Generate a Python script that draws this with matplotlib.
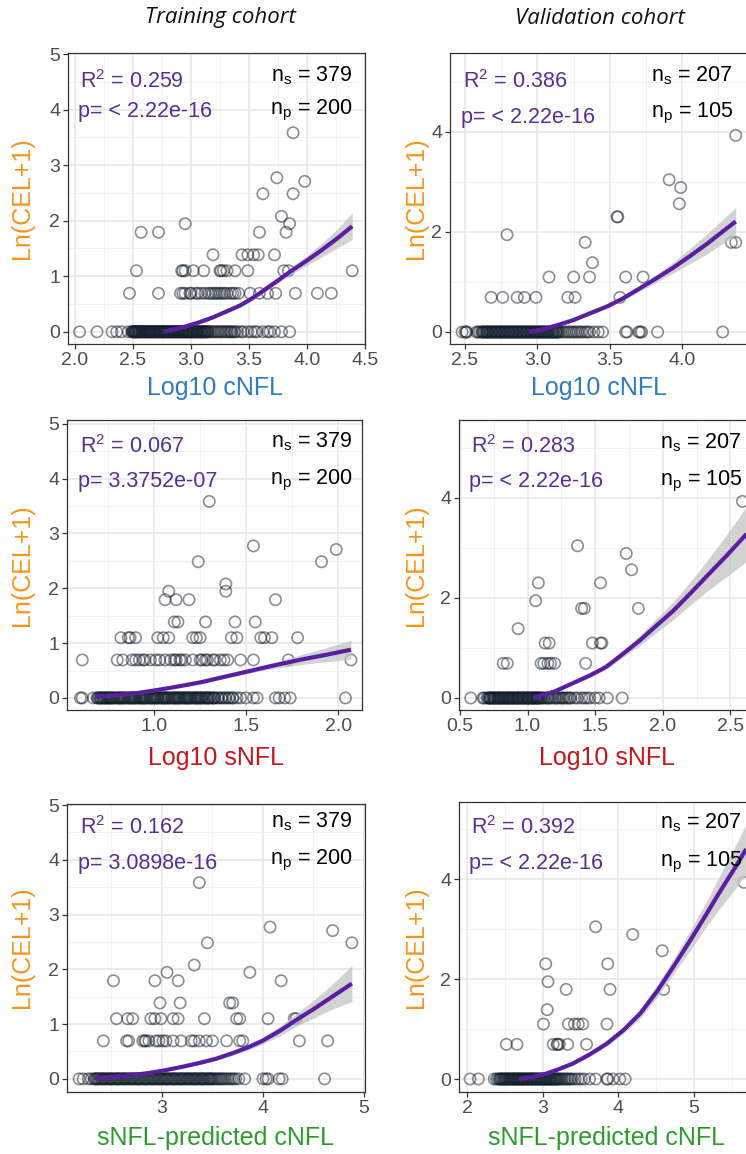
import matplotlib
matplotlib.use("Agg")
import matplotlib.pyplot as plt
from matplotlib.ticker import MultipleLocator

plt.rcParams['font.family'] = ['Liberation Sans', 'DejaVu Sans']
plt.rcParams['mathtext.fontset'] = 'custom'
plt.rcParams['mathtext.rm'] = 'Liberation Sans'
plt.rcParams['mathtext.it'] = 'Liberation Sans:italic'

W, H = 746, 1154

# ---------------- data ----------------
# y = 0 rows (x positions; *_x0d = the packed, nearly solid part of that row),
# non-zero points (x, y), fitted curve + ribbon half-width

# Training cohort, Log10 cNFL
tr_cnfl_x0 = [2.04, 2.19, 2.32, 2.36, 2.40, 2.46,
              2.49, 2.50, 2.51, 2.52, 2.52, 2.53, 2.54, 2.55, 2.56, 2.57, 2.58, 2.60,
              2.61, 2.62, 2.64, 2.65, 2.66, 2.68, 2.69, 2.70, 2.72, 2.73, 2.74, 2.76,
              2.77, 2.78, 2.80, 2.81, 2.82, 2.84, 2.85, 2.86, 2.88, 2.89, 2.90, 2.92,
              2.93, 2.94, 2.96, 2.97, 2.98, 3.00, 3.01, 3.02, 3.04, 3.05, 3.06, 3.08,
              3.09, 3.10, 3.12, 3.13, 3.15,
              3.18, 3.21, 3.24, 3.27, 3.30, 3.33, 3.35, 3.38, 3.40, 3.43, 3.45,
              3.49, 3.52, 3.55, 3.57, 3.62, 3.66, 3.68, 3.72, 3.78, 3.85]
tr_cnfl_x0d = [2.495, 2.507, 2.512, 2.524, 2.531, 2.546, 2.553, 2.561, 2.574, 2.583,
               2.592, 2.604, 2.613, 2.627, 2.633, 2.641, 2.656, 2.662, 2.674, 2.683,
               2.691, 2.706, 2.714, 2.722, 2.737, 2.745, 2.752, 2.764, 2.773, 2.787,
               2.794, 2.803, 2.816, 2.824, 2.833, 2.847, 2.853, 2.864, 2.872, 2.884,
               2.896, 2.903, 2.915, 2.924, 2.936, 2.943, 2.955, 2.967, 2.974, 2.986,
               2.993, 3.007, 3.014, 3.026, 3.033, 3.047, 3.055, 3.067, 3.074, 3.086,
               3.095, 3.107, 3.116, 3.124, 3.138, 3.146, 3.165, 3.196, 3.228, 3.256,
               3.287, 3.314, 3.345, 3.372]
tr_cnfl_x1 = [2.47, 2.72, 2.91, 2.93, 2.95, 2.99, 3.00, 3.04, 3.06, 3.09, 3.12, 3.15,
              3.17, 3.19, 3.21, 3.23, 3.25, 3.27, 3.29, 3.31, 3.34, 3.36, 3.38, 3.41,
              3.51, 3.59, 3.66, 3.73, 3.90, 4.09, 4.21,
              2.53, 2.92, 2.93, 2.95, 3.02, 3.11, 3.25, 3.26, 3.28, 3.31, 3.38, 3.49,
              3.80, 3.84, 4.39,
              3.19, 3.44, 3.49, 3.54, 3.58, 3.72,
              2.57, 2.72, 3.59, 3.82,
              2.95, 3.85, 3.78, 3.62, 3.88, 3.98, 3.74, 3.88]
tr_cnfl_y1 = [0.693] * 31 + [1.099] * 15 + [1.386] * 6 + [1.792] * 4 + \
             [1.946, 1.946, 2.079, 2.485, 2.485, 2.708, 2.773, 3.584]
tr_cnfl_fx = [2.76, 2.86, 2.96, 3.07, 3.19, 3.30, 3.42, 3.51, 3.59, 3.72, 3.86, 3.99,
              4.12, 4.26, 4.39]
tr_cnfl_fy = [0.00, 0.045, 0.10, 0.17, 0.26, 0.36, 0.47, 0.58, 0.69, 0.88, 1.09, 1.27,
              1.46, 1.68, 1.90]
tr_cnfl_band = [0.01, 0.015, 0.02, 0.02, 0.02, 0.02, 0.025, 0.03, 0.035, 0.045, 0.06,
                0.085, 0.12, 0.17, 0.24]

# Training cohort, Log10 sNFL
tr_snfl_x0 = [0.60, 0.61, 0.67,
              0.69, 0.70, 0.71, 0.72, 0.73, 0.74, 0.75, 0.76, 0.77, 0.78, 0.80, 0.81,
              0.82, 0.83, 0.84, 0.86, 0.87, 0.88, 0.89, 0.90, 0.92, 0.93, 0.94, 0.95,
              0.96, 0.98, 0.99, 1.00, 1.01, 1.02, 1.04, 1.05, 1.06, 1.07, 1.08, 1.10,
              1.11, 1.12, 1.13, 1.14, 1.16, 1.17, 1.18, 1.19, 1.20, 1.22, 1.23, 1.24,
              1.25, 1.26, 1.28, 1.29, 1.30, 1.32, 1.33,
              1.35, 1.37, 1.39, 1.41, 1.43, 1.45, 1.47,
              1.50, 1.54, 1.56, 1.66, 1.68, 1.71, 1.74, 2.04]
tr_snfl_x0d = [0.695, 0.706, 0.714, 0.726, 0.735, 0.744, 0.756, 0.765, 0.774, 0.786,
               0.795, 0.806, 0.815, 0.826, 0.835, 0.846, 0.854, 0.865, 0.876, 0.884,
               0.895, 0.905, 0.914, 0.926, 0.935, 0.945, 0.954, 0.966, 0.975, 0.984,
               0.996, 1.005, 1.016, 1.024, 1.035, 1.046, 1.055, 1.064, 1.076, 1.085,
               1.094, 1.106, 1.115, 1.126, 1.135, 1.146, 1.154, 1.165, 1.176, 1.185,
               1.194, 1.206, 1.215, 1.226, 1.234, 1.246, 1.255, 1.266, 1.274, 1.285,
               1.296, 1.305, 1.316, 1.326, 1.345, 1.365, 1.384, 1.405, 1.426]
tr_snfl_x1 = [0.61, 0.80, 0.83, 0.88, 0.90, 0.92, 0.94, 0.95, 0.98, 1.01, 1.03, 1.06,
              1.09, 1.11, 1.12, 1.14, 1.15, 1.17, 1.21, 1.25, 1.26, 1.28, 1.29, 1.32,
              1.33, 1.36, 1.38, 1.40, 1.47, 1.54, 1.73, 2.07,
              0.82, 0.86, 0.87, 0.90, 1.02, 1.05, 1.08, 1.21, 1.23, 1.25, 1.42, 1.45,
              1.58, 1.60, 1.64, 1.78,
              1.11, 1.13, 1.28, 1.44, 1.55,
              1.06, 1.12, 1.19, 1.66,
              1.08, 1.39, 1.39, 1.24, 1.91, 1.99, 1.54, 1.30]
tr_snfl_y1 = [0.693] * 32 + [1.099] * 16 + [1.386] * 5 + [1.792] * 4 + \
             [1.946, 1.946, 2.079, 2.485, 2.485, 2.708, 2.773, 3.584]
tr_snfl_fx = [0.68, 0.79, 0.90, 0.99, 1.08, 1.17, 1.26, 1.35, 1.44, 1.53, 1.62, 1.71,
              1.80, 1.94, 2.07]
tr_snfl_fy = [0.02, 0.05, 0.085, 0.13, 0.18, 0.233, 0.29, 0.36, 0.43, 0.50, 0.57, 0.635,
              0.70, 0.79, 0.88]
tr_snfl_band = [0.02, 0.02, 0.02, 0.02, 0.02, 0.02, 0.025, 0.025, 0.03, 0.04, 0.05,
                0.07, 0.09, 0.13, 0.17]

# Training cohort, sNFL-predicted cNFL
tr_pred_x0 = [2.18, 2.22, 2.27, 2.30,
              2.33, 2.35, 2.37, 2.40, 2.42, 2.44, 2.47, 2.49, 2.51, 2.54, 2.56, 2.58,
              2.61, 2.63, 2.65, 2.68, 2.70, 2.72, 2.75, 2.77, 2.79, 2.82, 2.84, 2.86,
              2.89, 2.91, 2.93, 2.96, 2.98, 3.00, 3.03, 3.05, 3.07, 3.10, 3.12, 3.14,
              3.17, 3.19, 3.21, 3.24, 3.26, 3.28, 3.31, 3.33, 3.35, 3.38, 3.40, 3.42,
              3.45, 3.47, 3.49, 3.52, 3.55, 3.58, 3.61, 3.65,
              3.69, 3.73, 3.76,
              3.82, 4.00, 4.03, 4.05, 4.16, 4.19, 4.61]
tr_pred_x0d = [2.34, 2.36, 2.385, 2.41, 2.43, 2.455, 2.48, 2.50, 2.525, 2.55, 2.57,
               2.595, 2.62, 2.64, 2.665, 2.69, 2.71, 2.735, 2.76, 2.78, 2.805, 2.83,
               2.85, 2.875, 2.90, 2.92, 2.945, 2.97, 2.99, 3.015, 3.04, 3.06, 3.085,
               3.11, 3.13, 3.155, 3.18, 3.20, 3.225, 3.25, 3.27, 3.295, 3.32, 3.34,
               3.365, 3.39, 3.41, 3.435, 3.46, 3.48, 3.505, 3.535, 3.565, 3.595, 3.63,
               3.67, 3.71]
tr_pred_x1 = [2.42, 2.65, 2.67, 2.81, 2.83, 2.84, 2.87, 2.94, 2.97, 3.01, 3.04, 3.11,
              3.19, 3.29, 3.32, 3.37, 3.44, 3.50, 3.64, 3.77, 3.80, 4.36, 4.64,
              2.55, 2.66, 2.71, 2.89, 2.93, 2.99, 3.11, 3.16, 3.42, 3.74, 3.77, 4.05,
              4.31, 4.33,
              2.98, 3.18, 3.67, 3.70,
              2.52, 2.93, 3.16, 4.18,
              3.05, 3.87, 3.32, 3.45, 4.88, 4.69, 4.07, 3.37]
tr_pred_y1 = [0.693] * 23 + [1.099] * 14 + [1.386] * 4 + [1.792] * 4 + \
             [1.946, 1.946, 2.079, 2.485, 2.485, 2.708, 2.773, 3.584]
tr_pred_fx = [2.33, 2.52, 2.71, 2.88, 3.04, 3.20, 3.37, 3.54, 3.70, 3.85, 3.99, 4.17,
              4.35, 4.49, 4.62, 4.75, 4.88]
tr_pred_fy = [0.01, 0.035, 0.07, 0.11, 0.16, 0.22, 0.29, 0.37, 0.47, 0.575, 0.69, 0.88,
              1.10, 1.26, 1.42, 1.58, 1.74]
tr_pred_band = [0.01, 0.015, 0.02, 0.02, 0.02, 0.02, 0.03, 0.035, 0.04, 0.05, 0.06,
                0.09, 0.12, 0.16, 0.20, 0.26, 0.33]

# Validation cohort, Log10 cNFL
va_cnfl_x0 = [2.48, 2.50, 2.51, 2.51, 2.58, 2.59, 2.60,
              2.62, 2.63, 2.65, 2.66, 2.68, 2.69, 2.71, 2.72, 2.74, 2.75, 2.77, 2.78,
              2.80, 2.81, 2.83, 2.84, 2.86, 2.87, 2.89, 2.90, 2.92, 2.93, 2.95, 2.96,
              2.98, 2.99, 3.01, 3.02, 3.04, 3.05, 3.07, 3.08, 3.10, 3.11, 3.13, 3.14,
              3.16,
              3.19, 3.22, 3.25, 3.28, 3.31, 3.33, 3.36, 3.39, 3.42, 3.45,
              3.61, 3.62, 3.70, 3.71, 3.72, 3.83, 4.28]
va_cnfl_x0d = [2.615, 2.625, 2.637, 2.646, 2.655, 2.667, 2.676, 2.685, 2.697, 2.706,
               2.715, 2.727, 2.736, 2.745, 2.757, 2.766, 2.775, 2.787, 2.796, 2.805,
               2.817, 2.826, 2.835, 2.847, 2.856, 2.865, 2.877, 2.886, 2.895, 2.907,
               2.916, 2.925, 2.937, 2.946, 2.955, 2.967, 2.976, 2.985, 2.997, 3.006,
               3.015, 3.027, 3.036, 3.045, 3.057, 3.066, 3.075, 3.087, 3.096, 3.105,
               3.117, 3.126, 3.135, 3.147, 3.175, 3.205, 3.236, 3.265, 3.297, 3.345]
va_cnfl_x1 = [2.68, 2.76, 2.86, 2.91, 2.99, 3.21, 3.26, 3.57,
              3.08, 3.25, 3.36, 3.61, 3.73,
              3.38,
              3.33, 4.34, 4.37,
              2.79, 3.55, 3.555, 3.98, 3.99, 3.91, 4.37]
va_cnfl_y1 = [0.693] * 8 + [1.099] * 5 + [1.386] + [1.792] * 3 + \
             [1.946, 2.303, 2.303, 2.565, 2.890, 3.045, 3.932]
va_cnfl_fx = [2.94, 3.03, 3.13, 3.25, 3.36, 3.48, 3.59, 3.70, 3.82, 3.94, 4.05, 4.17,
              4.28, 4.37]
va_cnfl_fy = [0.00, 0.05, 0.13, 0.24, 0.37, 0.51, 0.67, 0.86, 1.07, 1.29, 1.51, 1.76,
              2.01, 2.21]
va_cnfl_band = [0.01, 0.015, 0.02, 0.025, 0.03, 0.035, 0.04, 0.055, 0.08, 0.11, 0.15,
                0.20, 0.24, 0.28]

# Validation cohort, Log10 sNFL
va_snfl_x0 = [0.58, 0.67, 0.68, 0.70, 0.71,
              0.72, 0.73, 0.75, 0.76, 0.78, 0.79, 0.80, 0.82, 0.83, 0.85, 0.86, 0.87,
              0.89, 0.90, 0.92, 0.93, 0.94, 0.96, 0.97, 0.99, 1.00, 1.01, 1.03, 1.04,
              1.06, 1.07, 1.08, 1.10,
              1.12, 1.15, 1.17, 1.20, 1.22, 1.25, 1.27, 1.30, 1.32, 1.35, 1.37, 1.40,
              1.42, 1.44, 1.46,
              1.50, 1.53, 1.59, 1.70]
va_snfl_x0d = [0.715, 0.724, 0.735, 0.744, 0.755, 0.765, 0.774, 0.785, 0.796, 0.805,
               0.814, 0.825, 0.836, 0.845, 0.854, 0.865, 0.876, 0.885, 0.894, 0.905,
               0.916, 0.925, 0.934, 0.945, 0.956, 0.965, 0.974, 0.985, 0.996, 1.005,
               1.014, 1.025, 1.036, 1.045, 1.054, 1.065, 1.076, 1.085, 1.094, 1.106,
               1.125, 1.145, 1.16, 1.185, 1.21, 1.235, 1.26, 1.285, 1.31]
va_snfl_x1 = [0.82, 0.85, 1.10, 1.12, 1.15, 1.17, 1.20, 1.43,
              1.13, 1.16, 1.48, 1.54, 1.55,
              0.93,
              1.40, 1.42, 1.82,
              1.06, 1.08, 1.54, 1.77, 1.73, 1.37, 2.59]
va_snfl_y1 = [0.693] * 8 + [1.099] * 5 + [1.386] + [1.792] * 3 + \
             [1.946, 2.303, 2.303, 2.565, 2.890, 3.045, 3.932]
va_snfl_fx = [1.04, 1.20, 1.33, 1.46, 1.58, 1.70, 1.83, 1.95, 2.08, 2.20, 2.32, 2.47,
              2.62]
va_snfl_fy = [0.00, 0.13, 0.29, 0.45, 0.62, 0.87, 1.15, 1.44, 1.75, 2.08, 2.42, 2.84,
              3.28]
va_snfl_band = [0.01, 0.02, 0.03, 0.04, 0.05, 0.07, 0.10, 0.14, 0.18, 0.23, 0.30,
                0.42, 0.55]

# Validation cohort, sNFL-predicted cNFL
va_pred_x0 = [2.04, 2.15, 2.36, 2.39, 2.41,
              2.43, 2.45, 2.48, 2.50, 2.52, 2.55, 2.57, 2.60, 2.62, 2.64, 2.67, 2.69,
              2.72, 2.74, 2.76, 2.79, 2.81, 2.84, 2.86, 2.88, 2.91, 2.93, 2.96, 2.98,
              3.00, 3.03, 3.05, 3.08, 3.10, 3.12, 3.15, 3.17, 3.20, 3.23,
              3.27, 3.31, 3.35, 3.39, 3.43, 3.47, 3.51, 3.55,
              3.62, 3.70, 3.85, 3.86, 3.93, 4.02, 4.09]
va_pred_x0d = [2.435, 2.455, 2.47, 2.49, 2.51, 2.53, 2.545, 2.565, 2.585, 2.605,
               2.625, 2.645, 2.66, 2.68, 2.70, 2.72, 2.735, 2.755, 2.775, 2.795,
               2.815, 2.835, 2.85, 2.87, 2.89, 2.91, 2.925, 2.945, 2.965, 2.985,
               3.005, 3.025, 3.04, 3.06, 3.08, 3.10, 3.115, 3.135, 3.155, 3.175,
               3.19, 3.215, 3.25, 3.29, 3.33, 3.37]
va_pred_x1 = [2.52, 2.66, 3.14, 3.19, 3.20, 3.22, 3.33, 3.58,
              3.01, 3.34, 3.42, 3.47, 3.53, 3.85,
              3.06,
              3.31, 3.89, 4.60,
              3.07, 3.04, 3.86, 4.58, 4.19, 3.70, 5.66]
va_pred_y1 = [0.693] * 8 + [1.099] * 6 + [1.386] + [1.792] * 3 + \
             [1.946, 2.303, 2.303, 2.565, 2.890, 3.045, 3.932]
va_pred_fx = [2.69, 2.87, 3.05, 3.22, 3.40, 3.62, 3.85, 4.07, 4.29, 4.51, 4.73, 4.95,
              5.17, 5.30, 5.44, 5.57, 5.69]
va_pred_fy = [0.00, 0.04, 0.11, 0.20, 0.31, 0.49, 0.71, 0.98, 1.31, 1.75, 2.25, 2.77,
              3.31, 3.64, 3.98, 4.29, 4.60]
va_pred_band = [0.01, 0.015, 0.02, 0.025, 0.03, 0.04, 0.05, 0.07, 0.09, 0.12, 0.15,
                0.20, 0.25, 0.31, 0.38, 0.44, 0.50]

r2_labels = ['0.259', '0.067', '0.162', '0.386', '0.283', '0.392']
p_labels = ['< 2.22e-16', '3.3752e-07', '3.0898e-16',
            '< 2.22e-16', '< 2.22e-16', '< 2.22e-16']
ns_labels = ['379', '379', '379', '207', '207', '207']
np_labels = ['200', '200', '200', '105', '105', '105']
x_titles = ['Log10 cNFL', 'Log10 sNFL', 'sNFL-predicted cNFL']
x_colors = ['#2E7BC0', '#C4161C', '#2E9B2E']

PURPLE_TXT = '#5B2D91'
PURPLE_LINE = '#5A1FA0'
ORANGE = '#F7941D'


def fpos(x, y):
    return x / W, 1 - y / H


def make_axes(l, t, r, b):
    return fig.add_axes([l / W, 1 - b / H, (r - l) / W, (b - t) / H])


def draw(ax, x0, x0d, x1, y1, fx, fy, band, xlim, ylim, xticks, xmin_, ymaj, ymin_):
    ax.set_xlim(*xlim)
    ax.set_ylim(*ylim)
    ax.set_xticks(xticks)
    ax.xaxis.set_minor_locator(MultipleLocator(xmin_))
    ax.yaxis.set_major_locator(MultipleLocator(ymaj))
    ax.yaxis.set_minor_locator(MultipleLocator(ymin_))
    ax.grid(which='major', color='#E6E6E6', lw=1.1)
    ax.grid(which='minor', color='#F0F0F0', lw=0.6)
    ax.set_axisbelow(True)
    ax.tick_params(which='major', direction='out', length=3.5, width=0.9,
                   color='#333333', labelcolor='#4D4D4D', labelsize=14, pad=2)
    ax.tick_params(which='minor', length=0)
    for s in ax.spines.values():
        s.set_color('#333333')
        s.set_linewidth(0.9)
    xs = list(x0) + list(x0d) + list(x1)
    ys = [0] * (len(x0) + len(x0d)) + list(y1)
    ax.scatter(xs, ys, s=66, facecolors='none', edgecolors='#14212D',
               linewidths=1.2, alpha=0.5, zorder=2)
    lo = [a - b for a, b in zip(fy, band)]
    hi = [a + b for a, b in zip(fy, band)]
    ax.fill_between(fx, lo, hi, color='#C4C4C4', alpha=0.75, lw=0, zorder=3)
    ax.plot(fx, fy, color=PURPLE_LINE, lw=3.0, zorder=4,
            solid_capstyle='butt', solid_joinstyle='round')


fig = plt.figure(figsize=(W / 100, H / 100), dpi=100)

# left column (training)
ax1 = make_axes(68, 53, 365, 344)
draw(ax1, tr_cnfl_x0, tr_cnfl_x0d, tr_cnfl_x1, tr_cnfl_y1, tr_cnfl_fx, tr_cnfl_fy,
     tr_cnfl_band, (1.94, 4.50), (-0.22, 5.02), [2.0, 2.5, 3.0, 3.5, 4.0, 4.5], 0.25, 1, 0.5)
ax3 = make_axes(67, 420, 362, 710)
draw(ax3, tr_snfl_x0, tr_snfl_x0d, tr_snfl_x1, tr_snfl_y1, tr_snfl_fx, tr_snfl_fy,
     tr_snfl_band, (0.527, 2.13), (-0.22, 5.07), [1.0, 1.5, 2.0], 0.25, 1, 0.5)
ax5 = make_axes(67, 804, 365, 1092)
draw(ax5, tr_pred_x0, tr_pred_x0d, tr_pred_x1, tr_pred_y1, tr_pred_fx, tr_pred_fy,
     tr_pred_band, (2.06, 5.01), (-0.24, 5.02), [3, 4, 5], 0.5, 1, 0.5)

# right column (validation), cut at the right edge
ax2 = make_axes(450, 53, 756, 344)
draw(ax2, va_cnfl_x0, va_cnfl_x0d, va_cnfl_x1, va_cnfl_y1, va_cnfl_fx, va_cnfl_fy,
     va_cnfl_band, (2.396, 4.51), (-0.24, 5.58), [2.5, 3.0, 3.5, 4.0], 0.25, 2, 1)
ax4 = make_axes(459, 420, 756, 710)
draw(ax4, va_snfl_x0, va_snfl_x0d, va_snfl_x1, va_snfl_y1, va_snfl_fx, va_snfl_fy,
     va_snfl_band, (0.493, 2.69), (-0.24, 5.56), [0.5, 1.0, 1.5, 2.0, 2.5], 0.25, 2, 1)
ax6 = make_axes(459, 802, 756, 1092)
draw(ax6, va_pred_x0, va_pred_x0d, va_pred_x1, va_pred_y1, va_pred_fx, va_pred_fy,
     va_pred_band, (1.894, 5.82), (-0.26, 5.54), [2, 3, 4, 5], 0.5, 2, 1)

# column titles
fig.text(*fpos(220, 18), 'Training cohort', fontsize=16, style='italic',
         family=['Open Sans', 'DejaVu Sans'], ha='center', va='center', color='#111111')
fig.text(*fpos(600, 18), 'Validation cohort', fontsize=16, style='italic',
         family=['Open Sans', 'DejaVu Sans'], ha='center', va='center', color='#111111')

# annotations: (R2 x, R2 y, p y, n x, ns y, np y, n align)
ann = [(80, 82, 112, 353, 76, 110, 'right'),
       (80, 447, 482, 353, 442, 480, 'right'),
       (80, 828, 863, 353, 822, 860, 'right'),
       (463, 82, 117, 651, 76, 113, 'left'),
       (471, 447, 482, 660, 443, 481, 'left'),
       (471, 828, 863, 660, 823, 862, 'left')]
for i, (rx, ry, py, nx, nsy, npy, al) in enumerate(ann):
    fig.text(*fpos(rx, ry), r'R$^2$ = ' + r2_labels[i], fontsize=15.5,
             color=PURPLE_TXT, ha='left', va='center')
    fig.text(*fpos(rx - 2, py), 'p= ' + p_labels[i], fontsize=15.5,
             color=PURPLE_TXT, ha='left', va='center')
    fig.text(*fpos(nx, nsy), r'n$_{\rm s}$ = ' + ns_labels[i], fontsize=15.5,
             color='black', ha=al, va='center')
    fig.text(*fpos(nx, npy), r'n$_{\rm p}$ = ' + np_labels[i], fontsize=15.5,
             color='black', ha=al, va='center')

# axis titles
xl_pos = [(215, 388), (216, 758), (215, 1138)]
xr_pos = [(599, 388), (607, 758), (607, 1138)]
yl_y = [198, 565, 947]
for k in range(3):
    fig.text(*fpos(*xl_pos[k]), x_titles[k], fontsize=18, color=x_colors[k],
             ha='center', va='center')
    fig.text(*fpos(*xr_pos[k]), x_titles[k], fontsize=18, color=x_colors[k],
             ha='center', va='center')
    fig.text(*fpos(22, yl_y[k]), 'Ln(CEL+1)', fontsize=18, color=ORANGE,
             rotation=90, ha='center', va='center')
    fig.text(*fpos(416, yl_y[k]), 'Ln(CEL+1)', fontsize=18, color=ORANGE,
             rotation=90, ha='center', va='center')

fig.savefig('out.png', dpi=100)
